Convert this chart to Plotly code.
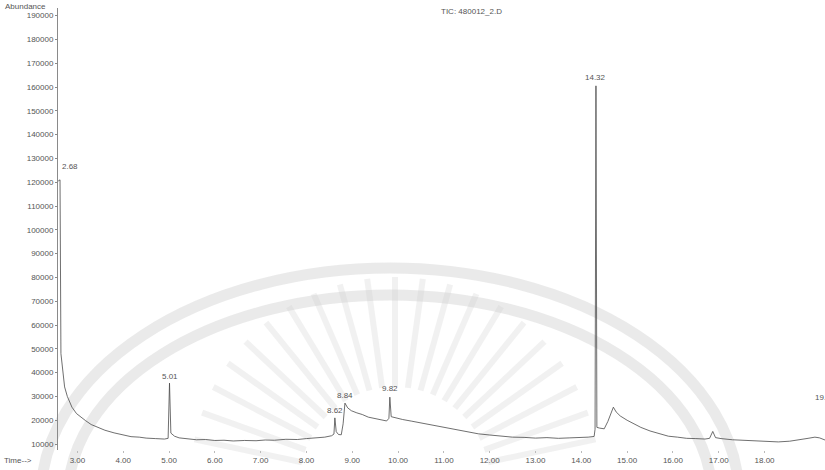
import math
import plotly.graph_objects as go

# ---- data ----
time_min = [2.58, 2.62, 2.64, 2.68, 2.72, 2.78, 2.88, 2.98, 3.08, 3.18, 3.30, 3.45, 3.60, 3.80,
            3.98, 4.17, 4.35, 4.50, 4.70, 4.90, 4.98, 5.01, 5.04, 5.12, 5.22, 5.40, 5.60, 5.80,
            6.00, 6.20, 6.40, 6.65, 6.90, 7.10, 7.30, 7.55, 7.80, 8.00, 8.20, 8.40, 8.55, 8.60,
            8.62, 8.65, 8.70, 8.76, 8.80, 8.84, 8.90, 8.98, 9.10, 9.22, 9.35, 9.50, 9.62, 9.75,
            9.80, 9.82, 9.85, 9.95, 10.10, 10.30, 10.50, 10.75, 11.00, 11.25, 11.50, 11.75,
            12.00, 12.25, 12.50, 12.75, 13.00, 13.25, 13.50, 13.75, 14.00, 14.15, 14.28, 14.30,
            14.32, 14.34, 14.40, 14.50, 14.58, 14.64, 14.70, 14.76, 14.85, 15.00, 15.15, 15.30,
            15.50, 15.70, 15.90, 16.10, 16.30, 16.50, 16.70, 16.80, 16.87, 16.93, 17.05, 17.30,
            17.55, 17.80, 18.05, 18.30, 18.55, 18.75, 18.95, 19.10, 19.20, 19.32]
abundance = [120500, 121000, 48000, 40300, 34000, 30000, 25500, 22800, 21200, 19800, 18200, 16900,
             15800, 14700, 14000, 13100, 12900, 12500, 12300, 12100, 12400, 35600, 14600, 13300,
             12600, 12200, 11800, 11900, 11500, 11600, 11300, 11500, 11400, 11700, 11600, 12000,
             11900, 12300, 12600, 12900, 13500, 14200, 21000, 15200, 14000, 13900, 18500, 27200,
             25200, 24000, 23100, 22400, 21300, 20700, 20100, 19700, 20800, 29700, 21500, 21000,
             20300, 19600, 18900, 18000, 17100, 16000, 15200, 14300, 13800, 13200, 12900, 12800,
             12500, 12700, 12400, 12600, 12700, 12900, 13200, 16200, 160500, 17000, 16700, 16400,
             19500, 23000, 25500, 23500, 21800, 20000, 18500, 17000, 15500, 14500, 13300, 12900,
             12400, 12300, 12100, 12400, 15300, 12700, 12300, 11800, 11500, 11300, 11200, 10900,
             11200, 11700, 12400, 12900, 12600, 11700]

peak_times = [2.68, 5.01, 8.62, 8.84, 9.82, 14.32, 19.32]
peak_labels = ["2.68", "5.01", "8.62", "8.84", "9.82", "14.32", "19.32"]
label_y = [126500, 38200, 24300, 30600, 33500, 163800, 29700]
label_dx = [0.16, 0.0, 0.0, 0.0, 0.0, 0.0, 0.0]

y_ticks = list(range(10000, 190001, 10000))
x_ticks = list(range(3, 19))

# ---- layout geometry ----
W, H = 825, 470
L, R, T, B = 58, 0, 8, 20
PW, PH = W - L - R, H - T - B


def px(x):
    return (x - L) / PW


def py(y):
    return (H - B - y) / PH


fig = go.Figure()
fig.add_trace(go.Scatter(x=time_min, y=abundance, mode="lines",
                         line=dict(color="#4a4a4a", width=0.8), hoverinfo="skip",
                         showlegend=False))

grey = "#555555"
font = dict(family="Liberation Sans, Arial, sans-serif", size=8, color=grey)

annotations = []
for t, lab, ly, dx in zip(peak_times, peak_labels, label_y, label_dx):
    annotations.append(dict(x=t + dx, y=ly, xref="x", yref="y", text=lab, showarrow=False,
                            font=font, xanchor="center", yanchor="middle"))

annotations += [
    dict(x=px(3), y=py(6), xref="paper", yref="paper", text="Abundance", showarrow=False,
         font=font, xanchor="left", yanchor="middle"),
    dict(x=px(472), y=py(12), xref="paper", yref="paper", text="TIC: 480012_2.D",
         showarrow=False, font=font, xanchor="center", yanchor="middle"),
    dict(x=px(2), y=py(461), xref="paper", yref="paper", text="Time-->", showarrow=False,
         font=font, xanchor="left", yanchor="middle"),
]

# ---- faint watermark (decoration) ----
shapes = []
for (x0, x1, y0, y1) in [(41, 739, 268, 726), (68, 712, 295, 699)]:
    shapes.append(dict(type="circle", xref="paper", yref="paper", layer="below",
                       x0=px(x0), x1=px(x1), y0=py(y1), y1=py(y0),
                       line=dict(color="rgba(200,200,200,0.38)", width=11),
                       fillcolor="rgba(0,0,0,0)"))
cx, cy = 395, 482
for k in range(21):
    ang = math.radians(12 + k * 7.8)
    r1, r2 = 95, 205
    xa, ya = cx + r1 * math.cos(ang), cy - r1 * math.sin(ang)
    xb, yb = cx + r2 * math.cos(ang), cy - r2 * math.sin(ang)
    shapes.append(dict(type="line", xref="paper", yref="paper", layer="below",
                       x0=px(xa), y0=py(ya), x1=px(xb), y1=py(yb),
                       line=dict(color="rgba(205,205,205,0.28)", width=6)))

fig.update_layout(
    width=W, height=H,
    margin=dict(l=L, r=R, t=T, b=B, pad=0),
    paper_bgcolor="white", plot_bgcolor="white",
    font=font,
    annotations=annotations,
    shapes=shapes,
    xaxis=dict(range=[2.576, 19.32], tickvals=x_ticks,
               ticktext=["%.2f" % v for v in x_ticks], showgrid=False, zeroline=False,
               showline=False, ticks="outside", ticklen=2, tickcolor="#bbbbbb",
               tickfont=font, fixedrange=True),
    yaxis=dict(range=[7500, 193200], tickvals=y_ticks, ticktext=[str(v) for v in y_ticks],
               showgrid=False, zeroline=False, showline=True, linecolor="#8a8a8a",
               linewidth=1, ticks="outside", ticklen=2, tickcolor="#8a8a8a",
               tickfont=font, fixedrange=True),
)

fig.write_html("out.html")
